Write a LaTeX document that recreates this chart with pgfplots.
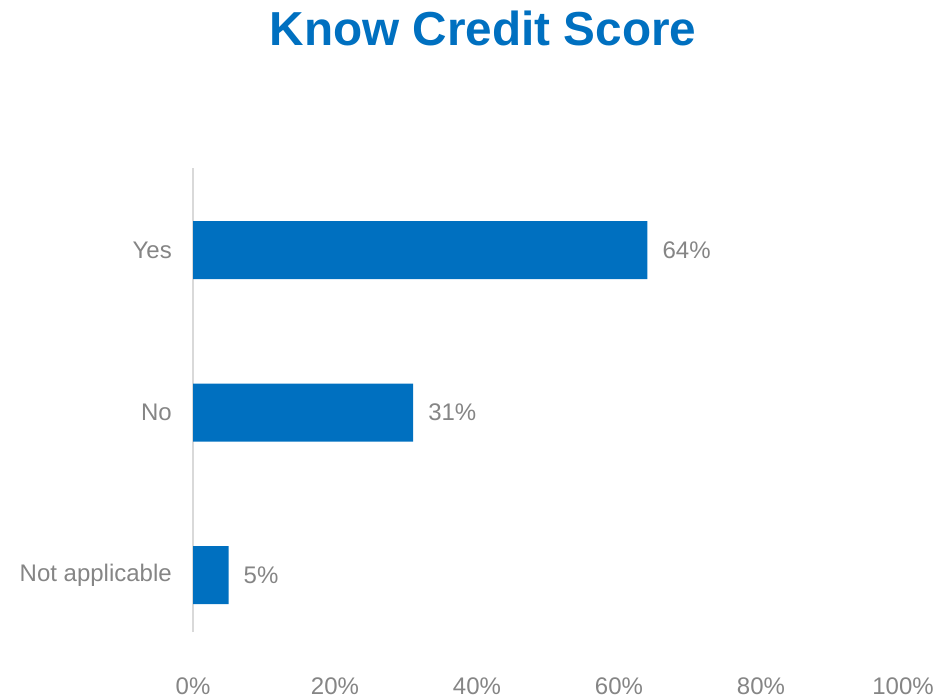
\documentclass[border=0pt]{standalone}
\usepackage{fontspec}
\setmainfont{Liberation Sans}
\usepackage{pgfplots}
\pgfplotsset{compat=1.18}
\definecolor{barblue}{HTML}{0070C0}
\definecolor{txtgray}{HTML}{858585}
\definecolor{axgray}{HTML}{D9D9D9}
\begin{document}
\begin{tikzpicture}
\useasboundingbox (0,0) rectangle (936pt,698pt);
\begin{axis}[
 at={(193pt,66pt)}, anchor=south west,
 scale only axis, width=710pt, height=464pt,
 xmin=0, xmax=100, ymin=-0.35, ymax=2.505,
 xbar, bar width=58pt,
 axis lines*=left,
 x axis line style={draw=none},
 y axis line style={draw=axgray, line width=1.5pt},
 xtick={0,20,...,100},
 xticklabel={\pgfmathprintnumber{\tick}\%},
 ytick={0,1,2}, yticklabels={Not applicable,No,Yes},
 major tick length=0pt,
 tick label style={font=\fontsize{24}{28}\selectfont, text=txtgray},
 xticklabel style={anchor=base, yshift=-62pt},
 yticklabel style={anchor=east, inner sep=0pt, xshift=-21pt},
 /pgf/number format/assume math mode=true,
 point meta=x,
 nodes near coords={\pgfmathprintnumber{\pgfplotspointmeta}\%},
 nodes near coords style={font=\fontsize{24}{28}\selectfont, text=txtgray, anchor=west, inner sep=0pt, xshift=15pt},
 clip=false,
]
\addplot[fill=barblue, draw=none] coordinates {(5,0) (31,1) (64,2)};
\end{axis}
\node[font=\bfseries\fontsize{47.7}{50}\selectfont, text=barblue] at (483pt,670pt) {Know Credit Score};
\end{tikzpicture}
\end{document}
